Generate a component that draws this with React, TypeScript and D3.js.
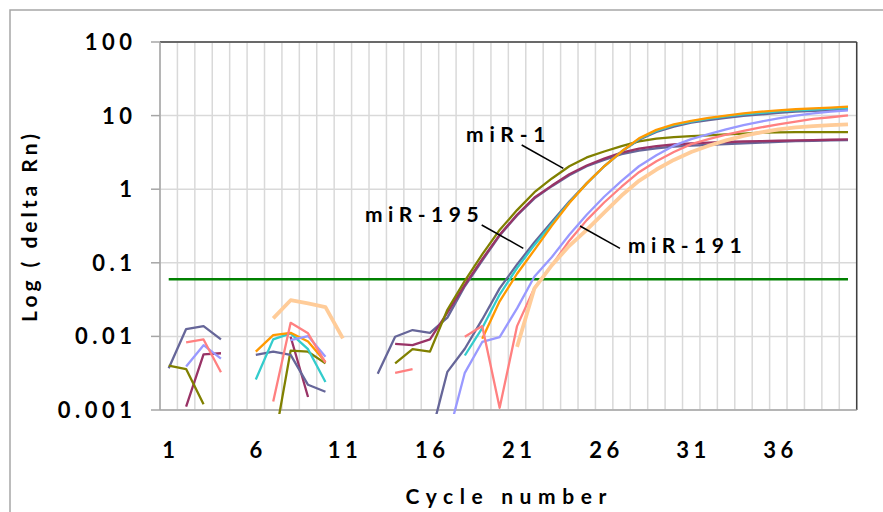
import React from 'react';
import * as d3 from 'd3';

// amplification plot, log(delta Rn) against cycle number
const CYCLES = d3.range(1, 41);
const X_TICK_LABELS = [1, 6, 11, 16, 21, 26, 31, 36];
const Y_TICKS = [0.001, 0.01, 0.1, 1, 10, 100];
const Y_TICK_LABELS = ['0.001', '0.01', '0.1', '1', '10', '100'];
const THRESHOLD = 0.06;

const _ = null;

// miR-1 replicates
const MIR1_A = [0.004, 0.0036, 0.0012, _, _, _, 0.0003, 0.0064, 0.0062, 0.0043, _, _, _, 0.0043, 0.0067, 0.0062, 0.023, 0.057, 0.13, 0.28, 0.52, 0.91, 1.4, 2.05, 2.7, 3.25, 3.85, 4.45, 4.85, 5.1, 5.27, 5.4, 5.55, 5.7, 5.85, 5.9, 5.95, 5.95, 5.95, 5.95];
const MIR1_B = [_, 0.00111, 0.0057, 0.0059, _, _, _, 0.0099, 0.0015, _, _, _, _, 0.0079, 0.0076, 0.0091, 0.021, 0.05, 0.112, 0.24, 0.45, 0.77, 1.12, 1.6, 2.1, 2.6, 3.15, 3.55, 3.85, 4.05, 4.2, 4.3, 4.38, 4.45, 4.5, 4.55, 4.6, 4.65, 4.7, 4.75];
const MIR1_C = [0.0037, 0.0126, 0.0138, 0.0091, _, _, _, _, _, _, _, _, 0.0031, 0.0099, 0.0122, 0.0112, 0.018, 0.048, 0.107, 0.235, 0.44, 0.75, 1.1, 1.55, 2.05, 2.5, 3.0, 3.35, 3.6, 3.8, 3.92, 4.0, 4.1, 4.2, 4.3, 4.4, 4.5, 4.55, 4.6, 4.65];

// miR-195 replicates
const MIR195_A = [_, _, _, _, _, 0.0056, 0.0062, 0.0056, 0.0022, 0.00177, _, _, _, _, _, 0.0004, 0.0033, 0.0068, 0.017, 0.045, 0.095, 0.19, 0.36, 0.68, 1.2, 2.05, 3.25, 4.7, 6.0, 7.1, 8.0, 8.7, 9.3, 9.9, 10.4, 10.9, 11.3, 11.6, 11.8, 12.0];
const MIR195_B = [_, _, _, _, _, 0.0026, 0.0091, 0.011, 0.0067, 0.0024, _, _, _, _, _, _, _, 0.0055, 0.013, 0.037, 0.085, 0.175, 0.34, 0.66, 1.2, 2.05, 3.25, 4.8, 6.2, 7.4, 8.3, 9.1, 9.8, 10.4, 10.9, 11.4, 11.8, 12.1, 12.4, 12.6];
const MIR195_C = [_, _, _, _, _, 0.0062, 0.0104, 0.0112, 0.0085, 0.0045, _, _, _, _, _, _, _, _, 0.0093, 0.03, 0.071, 0.15, 0.32, 0.65, 1.2, 2.05, 3.25, 4.9, 6.4, 7.6, 8.5, 9.3, 10.0, 10.7, 11.3, 11.8, 12.2, 12.5, 12.8, 13.2];

// miR-191 replicates
const MIR191_A = [_, 0.0039, 0.0076, 0.005, _, _, _, 0.0089, 0.0101, 0.0053, _, _, _, _, _, _, 0.0004, 0.0032, 0.0084, 0.0098, 0.024, 0.065, 0.12, 0.24, 0.45, 0.79, 1.3, 2.05, 2.9, 3.9, 4.8, 5.6, 6.5, 7.4, 8.3, 9.2, 10.0, 10.7, 11.3, 11.8];
const MIR191_B = [_, 0.0083, 0.0091, 0.00325, _, _, 0.0013, 0.0153, 0.011, 0.0044, _, _, _, 0.0032, 0.0036, _, _, 0.0099, 0.0138, 0.00107, 0.0138, 0.046, 0.093, 0.2, 0.38, 0.66, 1.08, 1.7, 2.4, 3.2, 4.1, 4.8, 5.5, 6.2, 6.9, 7.6, 8.3, 9.0, 9.5, 10.1];
const MIR191_C = [_, _, _, _, _, _, 0.0176, 0.031, 0.028, 0.025, 0.0094, _, _, _, _, _, _, _, _, _, 0.0072, 0.045, 0.093, 0.17, 0.28, 0.48, 0.82, 1.3, 1.85, 2.5, 3.2, 3.9, 4.6, 5.3, 5.9, 6.5, 6.9, 7.2, 7.4, 7.6];

const FONT = 'Lato, "Open Sans", sans-serif';

export default function App() {
  const W = 883, H = 512;
  const left = 160, right = 856.7, top = 42, bottom = 410;

  const x = d3.scaleBand<number>().domain(CYCLES).range([left, right]);
  const cx = (c: number) => (x(c) ?? 0) + x.bandwidth() / 2;
  const y = d3.scaleLog().domain([0.001, 100]).range([bottom, top]);

  const line = d3.line<number | null>()
    .defined(d => d != null && d > 0)
    .x((_d, i) => cx(CYCLES[i]))
    .y(d => y(d as number));

  const series = [
    { values: MIR1_C, color: '#666699', w: 2.3 },
    { values: MIR1_B, color: '#993366', w: 2.3 },
    { values: MIR1_A, color: '#808000', w: 2.3 },
    { values: MIR195_A, color: '#666699', w: 2.3 },
    { values: MIR195_B, color: '#33CCCC', w: 2.3 },
    { values: MIR195_C, color: '#FF9900', w: 2.3 },
    { values: MIR191_A, color: '#9999FF', w: 2.3 },
    { values: MIR191_B, color: '#FF8080', w: 2.3 },
    { values: MIR191_C, color: '#FFCC99', w: 3.8 },
  ];

  const gridBounds = [...CYCLES.map(c => x(c) as number), right];
  const ls = 4.5;

  return (
    <svg width={W} height={H} style={{ position: 'absolute', left: 0, top: 0, background: '#fff' }}
      fontFamily={FONT}>
      <defs>
        <clipPath id="plot">
          <rect x={left} y={top} width={right - left} height={bottom - top + 4} />
        </clipPath>
      </defs>
      <rect x={10} y={10} width={W + 20} height={H + 20} fill="#fff" stroke="#a6a6a6" strokeWidth={1.5} />

      {/* grid */}
      {gridBounds.map((gx, i) => (
        <line key={'v' + i} x1={gx} x2={gx} y1={top} y2={bottom} stroke="#d9d9d9" strokeWidth={1.5} />
      ))}
      {Y_TICKS.map(t => (
        <line key={'h' + t} x1={left} x2={right} y1={y(t)} y2={y(t)} stroke="#d9d9d9" strokeWidth={1.5} />
      ))}

      {/* axes */}
      <line x1={left} x2={right} y1={top} y2={top} stroke="#404040" strokeWidth={1.5} />
      <line x1={right} x2={right} y1={top} y2={bottom} stroke="#404040" strokeWidth={1.5} />
      <line x1={left} x2={left} y1={top} y2={bottom} stroke="#a6a6a6" strokeWidth={1.5} />
      <line x1={left} x2={right} y1={bottom} y2={bottom} stroke="#a6a6a6" strokeWidth={1.5} />
      {Y_TICKS.map(t => (
        <line key={'t' + t} x1={151} x2={left} y1={y(t)} y2={y(t)} stroke="#a6a6a6" strokeWidth={1.5} />
      ))}

      {/* threshold */}
      <line x1={cx(1)} x2={cx(40)} y1={y(THRESHOLD)} y2={y(THRESHOLD)} stroke="#008000" strokeWidth={2.5} />

      <g clipPath="url(#plot)">
        {series.map((s, i) => (
          <path key={i} d={line(s.values) ?? ''} fill="none" stroke={s.color} strokeWidth={s.w}
            strokeLinejoin="round" />
        ))}
      </g>

      {/* tick labels */}
      {Y_TICKS.map((t, i) => (
        <text key={'yl' + t} x={132 + ls} y={y(t)} dy="0.36em" textAnchor="end" fontSize={22}
          fontWeight={700} letterSpacing={ls} fill="#000">{Y_TICK_LABELS[i]}</text>
      ))}
      {X_TICK_LABELS.map(c => (
        <text key={'xl' + c} x={cx(c) + ls / 2} y={458} textAnchor="middle" fontSize={22}
          fontWeight={700} letterSpacing={ls} fill="#000">{c}</text>
      ))}

      {/* axis titles */}
      <text x={506 + 3.3} y={504} textAnchor="middle" fontSize={21} fontWeight={700} letterSpacing={6.6}>
        Cycle number
      </text>
      <text transform="translate(37,226) rotate(-90)" textAnchor="middle" fontSize={21} fontWeight={700}
        letterSpacing={4}>Log ( delta Rn)</text>

      {/* series labels */}
      <text x={466} y={141.5} fontSize={21} fontWeight={700} letterSpacing={5.8}>miR-1</text>
      <line x1={521.7} y1={145} x2={563.3} y2={168.3} stroke="#000" strokeWidth={1.5} />
      <text x={365} y={221.5} fontSize={21} fontWeight={700} letterSpacing={5.5}>miR-195</text>
      <line x1={481.7} y1={225} x2={523.3} y2={248.3} stroke="#000" strokeWidth={1.5} />
      <text x={628} y={253} fontSize={21} fontWeight={700} letterSpacing={5.5}>miR-191</text>
      <line x1={580} y1={226} x2={620} y2={248.3} stroke="#000" strokeWidth={1.5} />
    </svg>
  );
}
